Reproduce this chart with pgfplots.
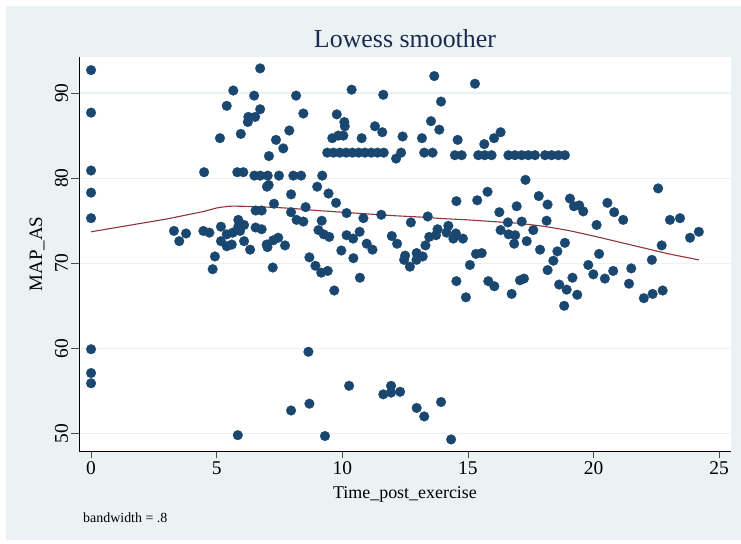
\documentclass[border=0pt]{standalone}
\usepackage{fontspec}
\setmainfont{Liberation Serif}
\usepackage{pgfplots}
\usepackage{pgfplotstable}
\pgfplotsset{compat=1.18}
\definecolor{stbg}{HTML}{EAF2F3}
\definecolor{stnavy}{HTML}{1A476F}
\definecolor{stmaroon}{HTML}{90353B}
\definecolor{sttitle}{HTML}{1C2A4F}

% Observed MAP_AS against time after exercise
\pgfplotstableread{
x y
0 92.7
0 87.7
0 80.9
0 78.3
0 75.3
0 59.9
0 57.1
0 55.9
3.30 73.8
3.51 72.6
3.78 73.5
4.47 73.8
4.71 73.6
4.50 80.7
4.93 70.8
4.84 69.3
5.13 84.7
5.40 88.5
5.66 90.3
5.96 85.2
6.26 87.2
6.24 86.6
6.49 89.7
6.53 87.2
6.73 88.1
6.73 92.9
5.82 80.7
6.06 80.7
6.50 80.3
6.73 80.3
7.03 80.3
7.48 80.3
8.05 80.3
8.36 80.3
9.20 80.3
5.17 74.3
5.17 72.6
5.40 73.4
5.40 72.0
5.60 72.2
5.64 73.6
5.86 75.1
5.86 74.3
5.93 73.8
6.09 74.5
6.09 72.6
6.33 71.6
5.84 49.8
6.55 76.2
6.79 76.2
6.55 74.2
6.79 74.0
6.99 72.2
7.02 71.9
7.00 79.0
7.07 79.2
7.08 82.6
7.23 69.5
7.25 72.7
7.28 77.0
7.36 84.5
7.45 73.0
7.65 83.5
7.72 72.1
7.89 85.6
7.96 78.1
7.96 76.0
7.96 52.7
8.16 89.7
8.18 75.1
8.45 74.9
8.45 87.6
8.54 76.6
8.65 59.6
8.69 70.7
8.69 53.5
8.93 69.7
9.00 79.0
9.05 73.9
9.16 68.9
9.18 75.0
9.26 73.4
9.31 49.7
9.42 69.1
9.45 78.2
9.48 73.1
9.60 84.7
9.68 66.8
9.75 77.1
9.78 87.5
9.84 85.0
9.96 71.5
10.04 85.0
10.08 86.6
10.10 86.1
10.17 75.9
10.17 73.3
10.27 55.6
10.37 90.4
10.43 72.9
10.44 70.6
10.69 73.7
10.70 68.3
10.77 84.7
10.84 75.3
10.97 72.3
11.20 71.6
11.30 86.1
11.55 75.7
11.59 85.4
11.63 89.8
11.63 54.6
11.94 55.6
11.94 54.8
11.97 73.2
12.18 72.3
12.30 54.9
12.40 84.9
12.46 70.4
12.50 70.9
12.69 69.6
12.73 74.8
12.95 70.4
12.96 71.2
12.96 53.0
13.17 84.7
13.20 70.8
13.26 52.0
13.31 72.1
13.40 75.5
13.46 73.1
13.53 86.7
13.66 92.0
13.73 73.3
13.79 74.0
13.86 85.7
13.93 89.0
13.93 53.7
14.15 73.6
14.22 74.4
14.33 49.3
14.42 72.9
14.52 73.5
14.54 77.3
14.54 67.9
14.59 84.5
14.80 72.9
14.92 66.0
15.08 69.8
15.28 91.1
15.32 71.1
15.37 77.4
15.55 71.2
15.65 84.0
15.78 78.4
15.81 67.9
16.04 84.7
16.05 67.3
16.25 76.0
16.30 73.9
16.30 85.4
16.59 74.8
16.62 73.4
16.74 66.4
16.84 72.3
16.88 73.3
16.94 76.7
17.07 68.0
17.14 74.9
17.23 68.2
17.29 79.8
17.34 72.6
17.60 73.9
17.82 77.9
17.87 71.6
18.13 75.0
18.17 76.9
18.17 69.2
18.40 70.3
18.56 71.4
18.63 67.5
18.83 65.0
18.86 72.4
18.93 66.9
19.06 77.6
19.16 68.3
19.22 76.7
19.35 66.3
19.43 76.8
19.59 76.1
19.79 69.8
19.99 68.7
20.12 74.5
20.22 71.1
20.45 68.2
20.55 77.1
20.78 69.1
20.82 76.0
21.18 75.1
21.41 67.6
21.50 69.4
22.00 65.9
22.32 70.4
22.35 66.4
22.57 78.8
22.71 72.1
22.75 66.8
23.04 75.1
23.44 75.3
23.84 73.0
24.19 73.7
9.40 83.0
9.65 83.0
9.90 83.0
10.15 83.0
10.40 83.0
10.65 83.0
10.90 83.0
11.15 83.0
11.40 83.0
11.65 83.0
12.14 82.3
12.34 83.0
13.26 83.0
13.59 83.0
14.48 82.7
14.75 82.7
15.41 82.7
15.67 82.7
15.94 82.7
16.61 82.7
16.87 82.7
17.14 82.7
17.40 82.7
17.67 82.7
18.07 82.7
18.33 82.7
18.60 82.7
18.86 82.7
}\obstable

% Lowess fit, bandwidth .8
\pgfplotstableread{
x y
0 73.7
1 74.2
2 74.7
3 75.2
4 75.8
4.5 76.1
5 76.5
5.5 76.7
6 76.7
7 76.6
8 76.45
9 76.2
10 76.0
11 75.8
12 75.6
13 75.45
14 75.25
15 75.1
16 74.9
17 74.7
18 74.35
19 73.85
20 73.2
21 72.5
22 71.8
23 71.1
24.19 70.4
}\lowesstable

\begin{document}
\begin{tikzpicture}
\fill[white] (0bp,0bp) rectangle (741bp,544bp);
\fill[stbg] (6bp,4bp) rectangle (741bp,538bp);
\node[anchor=base, text=sttitle, font=\fontsize{26}{26}\selectfont, inner sep=0pt] at (405bp,496bp) {Lowess smoother};
\node[anchor=base west, font=\fontsize{14}{14}\selectfont, inner sep=0pt] at (83bp,22bp) {bandwidth = .8};
\begin{axis}[
  at={(79bp,93bp)}, anchor=south west,
  scale only axis, width=652bp, height=394bp,
  xmin=-0.48, xmax=25.47, ymin=47.94, ymax=94.24,
  axis background/.style={fill=white},
  axis x line*=bottom, axis y line*=left,
  axis line style={black, line width=0.9bp, -},
  xtick={0,5,...,25}, ytick={50,60,...,90},
  tick align=outside, major tick length=7.5bp,
  tick style={gray!60!black, line width=0.8bp},
  ymajorgrids, grid style={stbg, line width=1.3bp},
  /pgf/number format/assume math mode=true,
  ticklabel style={font=\fontsize{19.5}{19.5}\selectfont},
  yticklabel style={rotate=90, anchor=south},
  xlabel={Time\_post\_exercise}, ylabel={MAP\_AS},
  xlabel style={font=\fontsize{18}{18}\selectfont, at={(axis description cs:0.5,-0.1218)}, anchor=base},
  ylabel style={font=\fontsize{19}{19}\selectfont, at={(axis description cs:-0.0644,0.5)}, anchor=center},
]
\addplot[only marks, mark=*, mark size=4.9bp, mark options={fill=stnavy, draw=stnavy, line width=0.2bp}] table {\obstable};
\addplot[stmaroon, line width=1.1bp, smooth, tension=0.3] table {\lowesstable};
\end{axis}
\end{tikzpicture}
\end{document}
